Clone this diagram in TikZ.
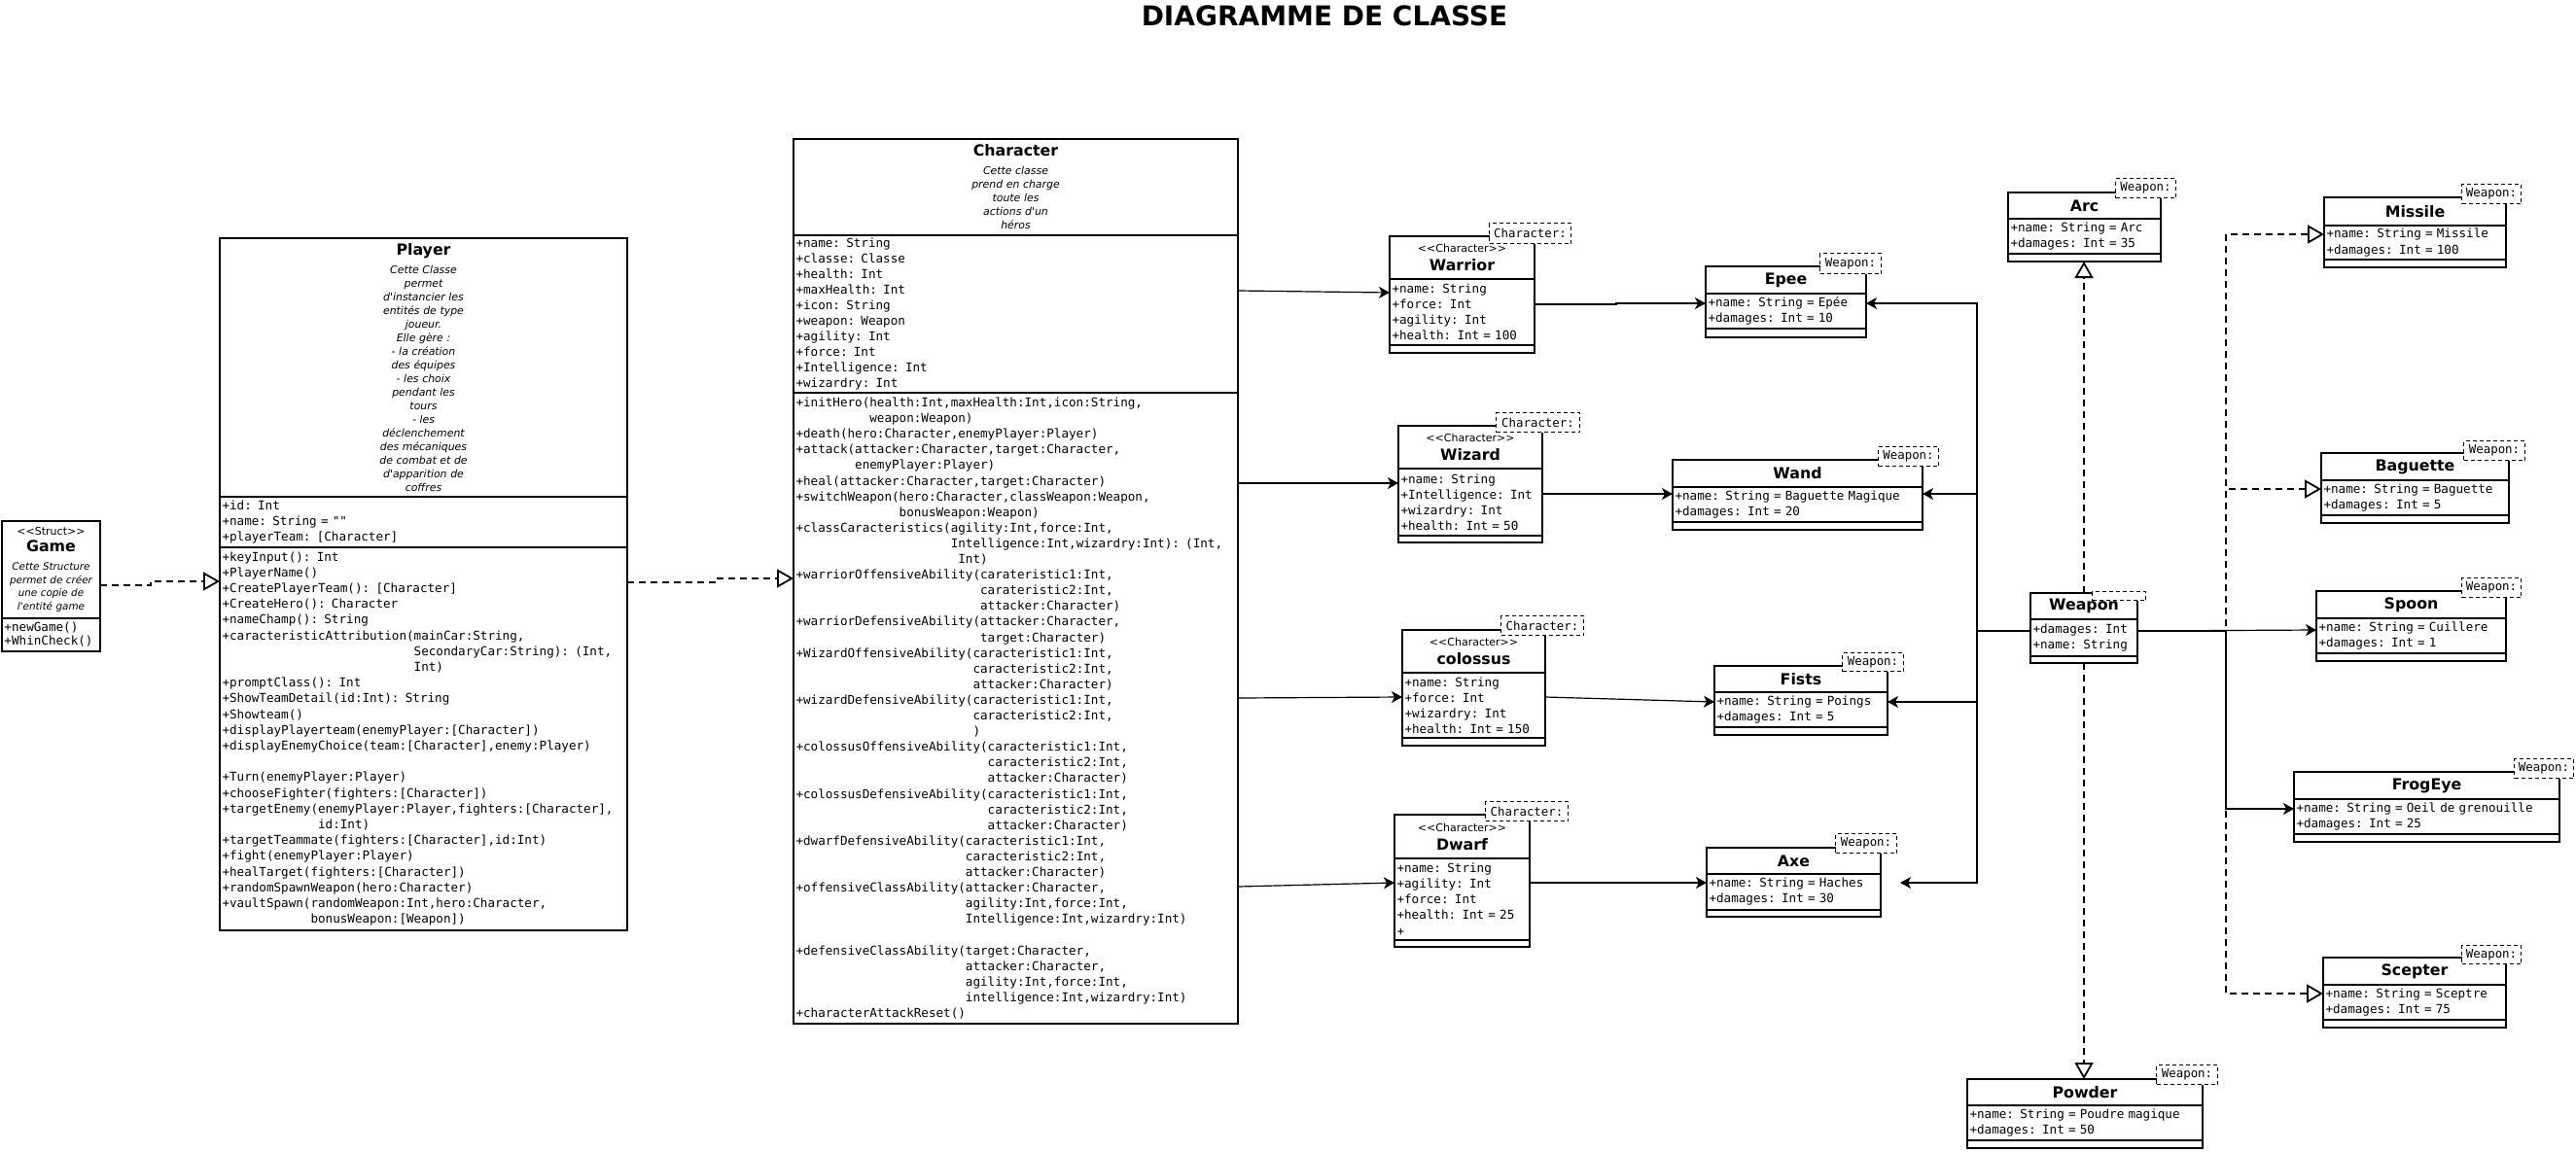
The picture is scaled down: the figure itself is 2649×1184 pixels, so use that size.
\documentclass[tikz,border=0pt]{standalone}
\usepackage{fontspec}
\newfontfamily\dsans{DejaVu Sans}
\newfontfamily\dmono{DejaVu Sans Mono}
\usetikzlibrary{arrows.meta}
\newcommand\umlstereo[1]{{\upshape\fontsize{11}{13}\selectfont #1}}
\newcommand\umlname[1]{{\upshape\bfseries\fontsize{15.8}{18}\selectfont #1}}
\newcommand\myind[1]{\hspace*{#1\dimexpr0.602em\relax}}
\tikzset{
  cbox/.style={draw, line width=1.4pt, anchor=north west, inner xsep=2.5pt, inner ysep=1pt, outer sep=0pt},
  hdr/.style={cbox, align=center, font=\dsans\itshape\fontsize{10.9}{14}\selectfont},
  cmp/.style={cbox, align=left, font=\dmono\fontsize{12.6}{16.1}\selectfont},
  bigbox/.style={line width=1.8pt},
  tagbox/.style={draw, fill=white, dash pattern=on 4pt off 3pt, line width=1pt, anchor=north east, inner sep=0pt, font=\dmono\fontsize{12.4}{15}\selectfont},
  assoc/.style={draw, line width=1.2pt, -{Stealth[length=11pt,width=12pt,inset=3pt]}},
  realize/.style={draw, line width=1.8pt, dash pattern=on 7pt off 5pt, -{Triangle[open,length=17pt,width=19pt,line width=1.8pt]}},
}
% name, x0, x1, ytop, ydiv1, ydiv2, ybot, header, attributes
\newcommand\umlclass[9]{%
  \pgfmathsetmacro\tw{#3-#2-5}%
  \pgfmathsetmacro\hA{#5-#4}%
  \pgfmathsetmacro\hB{#6-#5}%
  \pgfmathsetmacro\hC{#7-#6}%
  \node[hdr, text width=\tw pt, minimum height=\hA pt] (#1) at (#2,#4) {#8};
  \node[cmp, text width=\tw pt, minimum height=\hB pt] (#1-a) at (#2,#5) {#9};
  \node[cmp, text width=\tw pt, minimum height=\hC pt] (#1-m) at (#2,#6) {};
}
% name, xright, ytop, width, height, text
\newcommand\umltag[6]{%
  \node[tagbox, minimum width=#4pt, minimum height=#5pt] (#1) at (#2,#3) {#6};
}
\begin{document}
\begin{tikzpicture}[x=1pt, y=-1pt]
\fill[white] (0,0) rectangle (2649,1184);
\useasboundingbox (0,0) rectangle (2649,1184);

\node[font=\dsans\bfseries\fontsize{28}{32}\selectfont, inner sep=0pt] (title) at (1362,16) {DIAGRAMME DE CLASSE};

% ---------- Game ----------
\node[hdr, bigbox, text width=96pt, minimum height=100pt, font=\dsans\itshape\fontsize{10.4}{13.5}\selectfont] (game) at (2,536)
  {\umlstereo{<<Struct>>}\\[3pt]\umlname{Game}\\[6pt]Cette Structure\\permet de créer\\une copie de\\l'entité game};
\node[cmp, bigbox, text width=96pt, minimum height=34pt, font=\dmono\fontsize{12.6}{14}\selectfont] (game-m) at (2,636)
  {+newGame()\\+WhinCheck()};

% ---------- Player ----------
\node[hdr, bigbox, text width=414pt, minimum height=266pt] (player) at (226,245)
  {\umlname{Player}\\[5pt]Cette Classe\\permet\\d'instancier les\\entités de type\\joueur.\\Elle gère :\\- la création\\des équipes\\- les choix\\pendant les\\tours\\- les\\déclenchement\\des mécaniques\\de combat et de\\d'apparition de\\coffres};
\node[cmp, bigbox, text width=414pt, minimum height=52pt] (player-a) at (226,511)
  {+id: Int\\+name: String = ""\\+playerTeam: [Character]};
\node[cmp, bigbox, text width=414pt, minimum height=394pt, font=\dmono\fontsize{12.6}{16.2}\selectfont] (player-m) at (226,563)
  {+keyInput(): Int\\
   +PlayerName()\\
   +CreatePlayerTeam(): [Character]\\
   +CreateHero(): Character\\
   +nameChamp(): String\\
   +caracteristicAttribution(mainCar:String,\\
   \myind{26}SecondaryCar:String): (Int,\\
   \myind{26}Int)\\
   +promptClass(): Int\\
   +ShowTeamDetail(id:Int): String\\
   +Showteam()\\
   +displayPlayerteam(enemyPlayer:[Character])\\
   +displayEnemyChoice(team:[Character],enemy:Player)\\[16.2pt]
   +Turn(enemyPlayer:Player)\\
   +chooseFighter(fighters:[Character])\\
   +targetEnemy(enemyPlayer:Player,fighters:[Character],\\
   \myind{13}id:Int)\\
   +targetTeammate(fighters:[Character],id:Int)\\
   +fight(enemyPlayer:Player)\\
   +healTarget(fighters:[Character])\\
   +randomSpawnWeapon(hero:Character)\\
   +vaultSpawn(randomWeapon:Int,hero:Character,\\
   \myind{12}bonusWeapon:[Weapon])};

% ---------- Character ----------
\node[hdr, bigbox, text width=452pt, minimum height=99pt] (character) at (816,143)
  {\umlname{Character}\\[5pt]Cette classe\\prend en charge\\toute les\\actions d'un\\héros};
\node[cmp, bigbox, text width=452pt, minimum height=162pt] (character-a) at (816,242)
  {+name: String\\+classe: Classe\\+health: Int\\+maxHealth: Int\\+icon: String\\+weapon: Weapon\\+agility: Int\\+force: Int\\+Intelligence: Int\\+wizardry: Int};
\node[cmp, bigbox, text width=452pt, minimum height=649pt] (character-m) at (816,404)
  {+initHero(health:Int,maxHealth:Int,icon:String,\\
   \myind{10}weapon:Weapon)\\
   +death(hero:Character,enemyPlayer:Player)\\
   +attack(attacker:Character,target:Character,\\
   \myind{8}enemyPlayer:Player)\\
   +heal(attacker:Character,target:Character)\\
   +switchWeapon(hero:Character,classWeapon:Weapon,\\
   \myind{14}bonusWeapon:Weapon)\\
   +classCaracteristics(agility:Int,force:Int,\\
   \myind{21}Intelligence:Int,wizardry:Int): (Int,\\
   \myind{22}Int)\\
   +warriorOffensiveAbility(carateristic1:Int,\\
   \myind{25}carateristic2:Int,\\
   \myind{25}attacker:Character)\\
   +warriorDefensiveAbility(attacker:Character,\\
   \myind{25}target:Character)\\
   +WizardOffensiveAbility(caracteristic1:Int,\\
   \myind{24}caracteristic2:Int,\\
   \myind{24}attacker:Character)\\
   +wizardDefensiveAbility(caracteristic1:Int,\\
   \myind{24}caracteristic2:Int,\\
   \myind{24})\\
   +colossusOffensiveAbility(caracteristic1:Int,\\
   \myind{26}caracteristic2:Int,\\
   \myind{26}attacker:Character)\\
   +colossusDefensiveAbility(caracteristic1:Int,\\
   \myind{26}caracteristic2:Int,\\
   \myind{26}attacker:Character)\\
   +dwarfDefensiveAbility(caracteristic1:Int,\\
   \myind{23}caracteristic2:Int,\\
   \myind{23}attacker:Character)\\
   +offensiveClassAbility(attacker:Character,\\
   \myind{23}agility:Int,force:Int,\\
   \myind{23}Intelligence:Int,wizardry:Int)\\[16.1pt]
   +defensiveClassAbility(target:Character,\\
   \myind{23}attacker:Character,\\
   \myind{23}agility:Int,force:Int,\\
   \myind{23}intelligence:Int,wizardry:Int)\\
   +characterAttackReset()};

% ---------- Character subclasses ----------
\umlclass{warrior}{1429}{1578}{243}{287}{355}{363}{\umlstereo{<<Character>>}\\[5pt]\umlname{Warrior}}{+name: String\\+force: Int\\+agility: Int\\+health: Int = 100}
\umlclass{wizard}{1438}{1586}{438}{482}{551}{558}{\umlstereo{<<Character>>}\\[5pt]\umlname{Wizard}}{+name: String\\+Intelligence: Int\\+wizardry: Int\\+health: Int = 50}
\umlclass{colossus}{1442}{1589}{648}{692}{759}{767}{\umlstereo{<<Character>>}\\[5pt]\umlname{colossus}}{+name: String\\+force: Int\\+wizardry: Int\\+health: Int = 150}
\umlclass{dwarf}{1434}{1573}{838}{883}{967}{974}{\umlstereo{<<Character>>}\\[5pt]\umlname{Dwarf}}{+name: String\\+agility: Int\\+force: Int\\+health: Int = 25\\+}

% ---------- Weapons ----------
\umlclass{epee}{1754}{1919}{274}{302}{338}{347}{\umlname{Epee}}{+name: String = Epée\\+damages: Int = 10}
\umlclass{wand}{1720}{1977}{473}{501}{537}{545}{\umlname{Wand}}{+name: String = Baguette Magique\\+damages: Int = 20}
\umlclass{fists}{1763}{1941}{685}{712}{748}{756}{\umlname{Fists}}{+name: String = Poings\\+damages: Int = 5}
\umlclass{axe}{1755}{1934}{872}{899}{936}{943}{\umlname{Axe}}{+name: String = Haches\\+damages: Int = 30}
\umlclass{arc}{2065}{2222}{198}{225}{261}{269}{\umlname{Arc}}{+name: String = Arc\\+damages: Int = 35}
\umlclass{weapon}{2088}{2198}{610}{637}{675}{682}{\umlname{Weapon}}{+damages: Int\\+name: String}
\umlclass{powder}{2023}{2265}{1110}{1137}{1173}{1181}{\umlname{Powder}}{+name: String = Poudre magique\\+damages: Int = 50}
\umlclass{missile}{2390}{2577}{203}{232}{267}{275}{\umlname{Missile}}{+name: String = Missile\\+damages: Int = 100}
\umlclass{baguette}{2387}{2580}{466}{494}{530}{538}{\umlname{Baguette}}{+name: String = Baguette\\+damages: Int = 5}
\umlclass{spoon}{2382}{2577}{608}{636}{672}{680}{\umlname{Spoon}}{+name: String = Cuillere\\+damages: Int = 1}
\umlclass{frogeye}{2359}{2632}{794}{822}{858}{866}{\umlname{FrogEye}}{+name: String = Oeil de grenouille\\+damages: Int = 25}
\umlclass{scepter}{2389}{2577}{985}{1013}{1049}{1057}{\umlname{Scepter}}{+name: String = Sceptre\\+damages: Int = 75}

% ---------- template tags ----------
\umltag{warrior-t}{1616}{229}{84}{21}{Character:}
\umltag{wizard-t}{1625}{424}{86}{20}{Character:}
\umltag{colossus-t}{1629}{633}{85}{20}{Character:}
\umltag{dwarf-t}{1613}{824}{85}{20}{Character:}
\umltag{epee-t}{1935}{260}{63}{21}{Weapon:}
\umltag{wand-t}{1994}{459}{62}{20}{Weapon:}
\umltag{fists-t}{1958}{671}{63}{19}{Weapon:}
\umltag{axe-t}{1951}{857}{63}{20}{Weapon:}
\umltag{arc-t}{2238}{183}{62}{20}{Weapon:}
\umltag{weapon-t}{2207}{608}{55}{9}{}
\umltag{powder-t}{2281}{1095}{63}{20}{Weapon:}
\umltag{missile-t}{2593}{189}{61}{20}{Weapon:}
\umltag{baguette-t}{2597}{453}{63}{20}{Weapon:}
\umltag{spoon-t}{2593}{594}{61}{20}{Weapon:}
\umltag{frogeye-t}{2647}{780}{61}{20}{Weapon:}
\umltag{scepter-t}{2593}{972}{61}{19}{Weapon:}

% ---------- connectors ----------
\draw[realize] ([yshift=-66pt]game.north east) -- ++(52,0) |- ([yshift=-35pt]player-m.north west);
\draw[realize] ([yshift=-36pt]player-m.north east) -- ++(90,0) |- ([yshift=-191pt]character-m.north west);

\draw[assoc] ([yshift=-57pt]character-a.north east) -- ([yshift=-14pt]warrior-a.north west);
\draw[assoc] ([yshift=-93pt]character-m.north east) -- ([yshift=-15pt]wizard-a.north west);
\draw[assoc] ([yshift=-314pt]character-m.north east) -- ([yshift=-25pt]colossus-a.north west);
\draw[assoc] ([yshift=-508pt]character-m.north east) -- ([yshift=-25pt]dwarf-a.north west);

\draw[assoc] ([yshift=-26pt]warrior-a.north east) -- ++(84,0) |- ([yshift=-10pt]epee-a.north west);
\draw[assoc] ([yshift=-26pt]wizard-a.north east) -- ([yshift=-7pt]wand-a.north west);
\draw[assoc] ([yshift=-25pt]colossus-a.north east) -- ([yshift=-10pt]fists-a.north west);
\draw[assoc] ([yshift=-25pt]dwarf-a.north east) -- ([yshift=-9pt]axe-a.north west);

\draw[assoc] ([yshift=-12pt]weapon-a.north west) -- ++(-55,0) |- ([yshift=-10pt]epee-a.north east);
\draw[assoc] ([yshift=-12pt]weapon-a.north west) -- ++(-55,0) |- ([yshift=-7pt]wand-a.north east);
\draw[assoc] ([yshift=-12pt]weapon-a.north west) -- ++(-55,0) |- ([yshift=-10pt]fists-a.north east);
\draw[assoc, shorten >=20pt] ([yshift=-12pt]weapon-a.north west) -- ++(-55,0) |- ([yshift=-9pt]axe-a.north east);

\draw[assoc] ([yshift=-12pt]weapon-a.north east) -- ([yshift=-12pt]spoon-a.north west);
\draw[assoc] ([yshift=-12pt]weapon-a.north east) -- ++(91,0) |- ([yshift=-10pt]frogeye-a.north west);
\draw[realize] ([yshift=-12pt]weapon-a.north east) -- ++(91,0) |- ([yshift=-9pt]missile-a.north west);
\draw[realize] ([yshift=-12pt]weapon-a.north east) -- ++(91,0) |- ([yshift=-9pt]baguette-a.north west);
\draw[realize] ([yshift=-12pt]weapon-a.north east) -- ++(91,0) |- ([yshift=-9pt]scepter-a.north west);

\draw[realize] (weapon.north) -- (weapon.north |- arc-m.south);
\draw[realize] (weapon-m.south) -- (weapon-m.south |- powder.north);
\end{tikzpicture}
\end{document}
